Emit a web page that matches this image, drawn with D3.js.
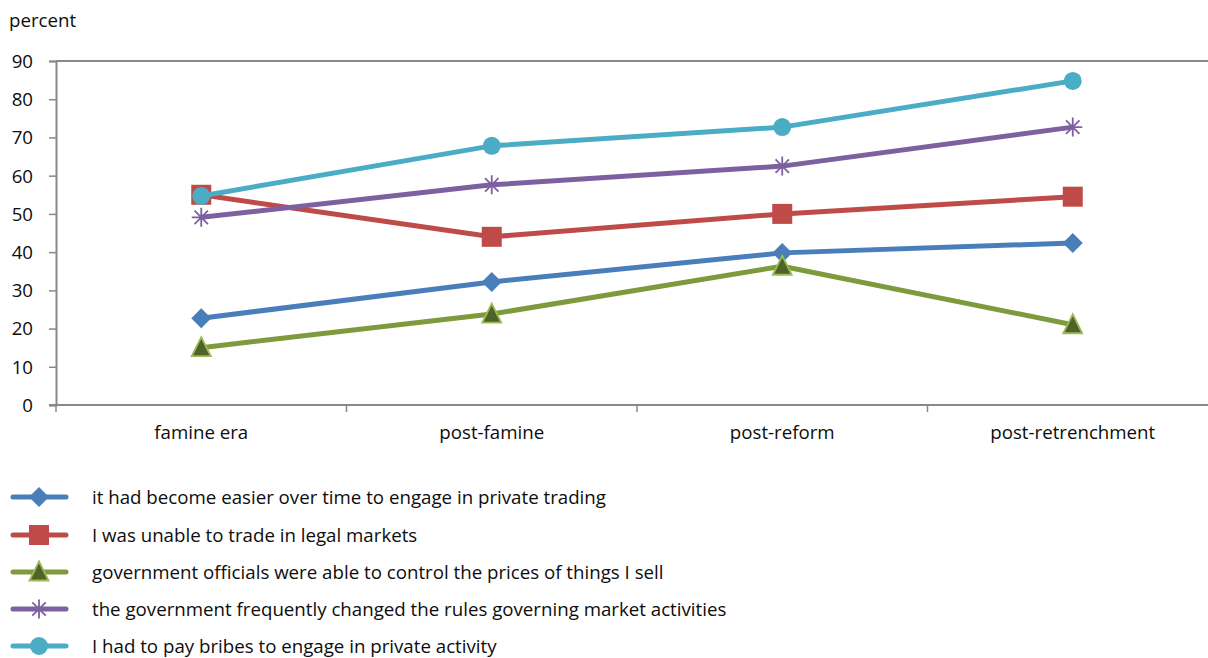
<!DOCTYPE html>
<html>
<head>
<meta charset="utf-8">
<script src="https://cdn.jsdelivr.net/npm/d3@7"></script>
<style>
  html, body { margin: 0; padding: 0; background: #fff; }
  svg { display: block; font-family: "Open Sans", "Noto Sans", sans-serif; }
</style>
</head>
<body>
<svg id="chart" width="1208" height="658"></svg>
<script>
// Survey periods
const periods = ["famine era", "post-famine", "post-reform", "post-retrenchment"];

// Share of respondents (percent) agreeing with each statement
const easierOverTime   = [22.7, 32.2, 39.8, 42.4];
const unableLegal      = [55.0, 44.0, 50.0, 54.5];
const officialsPrices  = [15.0, 23.8, 36.3, 21.0];
const rulesChanged     = [49.1, 57.6, 62.5, 72.7];
const paidBribes       = [54.7, 67.8, 72.7, 84.8];

const yTicks = [0, 10, 20, 30, 40, 50, 60, 70, 80, 90];

const series = [
  { name: "it had become easier over time to engage in private trading", values: easierOverTime, color: "#4a7ebb", marker: "diamond" },
  { name: "I was unable to trade in legal markets", values: unableLegal, color: "#be4b48", marker: "square" },
  { name: "government officials were able to control the prices of things I sell", values: officialsPrices, color: "#7d9b3c", marker: "triangle" },
  { name: "the government frequently changed the rules governing market activities", values: rulesChanged, color: "#7d60a0", marker: "star" },
  { name: "I had to pay bribes to engage in private activity", values: paidBribes, color: "#4bacc6", marker: "circle" }
];

const svg = d3.select("#chart");
const plotLeft = 56, plotTop = 61, plotBottom = 405, plotRight = 1218;
const textColor = "#0d0d0d";
const fontSize = 18.7;

const x = d3.scaleBand().domain(periods).range([plotLeft, plotRight]);
const y = d3.scaleLinear().domain([0, 90]).range([plotBottom, plotTop]);

const axisColor = "#888888";

// Plot frame: top border line
svg.append("line")
  .attr("x1", plotLeft).attr("x2", plotRight)
  .attr("y1", plotTop).attr("y2", plotTop)
  .attr("stroke", axisColor).attr("stroke-width", 2);

// Y axis
const yAxis = svg.append("g")
  .attr("transform", `translate(${plotLeft},0)`)
  .call(d3.axisLeft(y).tickValues(yTicks).tickSize(7).tickPadding(16).tickFormat(d3.format("d")));
yAxis.select(".domain").attr("stroke", axisColor).attr("stroke-width", 2);
yAxis.selectAll(".tick line").attr("stroke", axisColor).attr("stroke-width", 1.5);
yAxis.selectAll(".tick text")
  .attr("fill", textColor).attr("font-size", fontSize).attr("dy", "0.34em")
  .attr("font-family", "'Open Sans', sans-serif");

// X axis with ticks between categories
const xAxis = svg.append("g")
  .attr("transform", `translate(0,${plotBottom})`);
xAxis.append("line")
  .attr("x1", plotLeft - 7).attr("x2", plotRight)
  .attr("stroke", axisColor).attr("stroke-width", 2);
const boundaries = periods.map(p => x(p)).concat([plotRight]);
xAxis.selectAll("line.sep").data(boundaries).enter().append("line")
  .attr("class", "sep")
  .attr("x1", d => d).attr("x2", d => d)
  .attr("y1", 0).attr("y2", 7)
  .attr("stroke", axisColor).attr("stroke-width", 1.5);
xAxis.selectAll("text").data(periods).enter().append("text")
  .attr("x", d => x(d) + x.bandwidth() / 2)
  .attr("y", 27).attr("dy", "0.35em")
  .attr("text-anchor", "middle")
  .attr("font-size", fontSize).attr("fill", textColor)
  .text(d => d);

// Axis title
svg.append("text")
  .attr("x", 9).attr("y", 20).attr("dy", "0.35em")
  .attr("font-size", fontSize).attr("fill", textColor)
  .text("percent");

const cx = p => x(p) + x.bandwidth() / 2;

function drawMarker(g, type, color) {
  if (type === "diamond") {
    g.append("path").attr("d", "M0,-10L10,0L0,10L-10,0Z").attr("fill", color);
  } else if (type === "square") {
    g.append("rect").attr("x", -10).attr("y", -10).attr("width", 20).attr("height", 20).attr("fill", color);
  } else if (type === "triangle") {
    g.append("path").attr("d", "M0,-10.5L9.5,8.5L-9.5,8.5Z")
      .attr("fill", "#4f6228").attr("stroke", "#9bbb59").attr("stroke-width", 1.8);
  } else if (type === "star") {
    const r = 9.5;
    const star = d3.path();
    [0, 45, 90, 135].forEach(a => {
      const t = a * Math.PI / 180;
      star.moveTo(-r * Math.cos(t), -r * Math.sin(t));
      star.lineTo(r * Math.cos(t), r * Math.sin(t));
    });
    g.append("path").attr("d", star.toString()).attr("stroke", color).attr("stroke-width", 1.8).attr("fill", "none");
  } else if (type === "circle") {
    g.append("circle").attr("r", 9).attr("fill", color);
  }
}

const line = d3.line().x((d, i) => cx(periods[i])).y(d => y(d));

series.forEach(s => {
  const g = svg.append("g");
  g.append("path")
    .attr("d", line(s.values))
    .attr("fill", "none")
    .attr("stroke", s.color)
    .attr("stroke-width", 5)
    .attr("stroke-linejoin", "round");
  s.values.forEach((v, i) => {
    const m = g.append("g").attr("transform", `translate(${cx(periods[i])},${y(v)})`);
    drawMarker(m, s.marker, s.color);
  });
});

// Legend
const legendY = [497, 535, 572, 609, 646];
series.forEach((s, i) => {
  const g = svg.append("g").attr("transform", `translate(0,${legendY[i]})`);
  g.append("line").attr("x1", 13).attr("x2", 66).attr("y1", 0).attr("y2", 0)
    .attr("stroke", s.color).attr("stroke-width", 5).attr("stroke-linecap", "round");
  const m = g.append("g").attr("transform", "translate(39,0)");
  drawMarker(m, s.marker, s.color);
  g.append("text").attr("x", 92).attr("y", 0).attr("dy", "0.35em")
    .attr("font-size", fontSize).attr("fill", textColor)
    .text(s.name);
});
</script>
</body>
</html>
